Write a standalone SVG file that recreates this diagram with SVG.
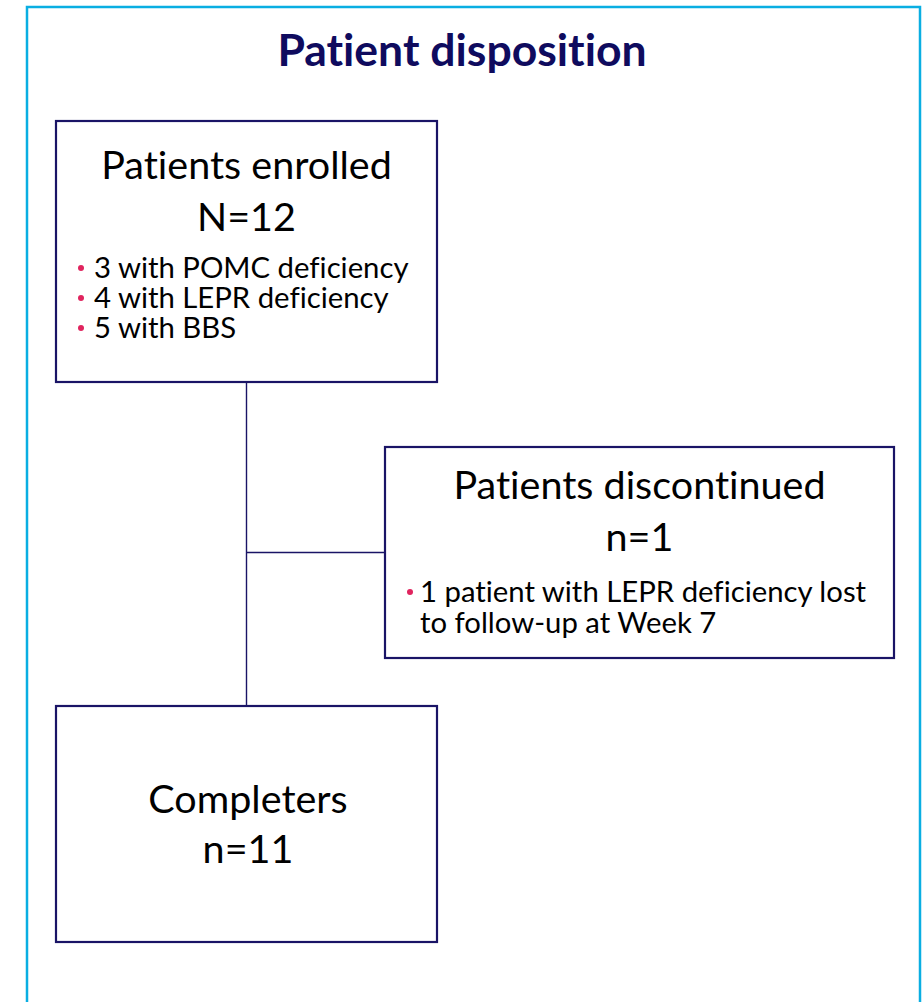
<svg xmlns="http://www.w3.org/2000/svg" width="923" height="1002" viewBox="0 0 923 1002">
<style>
.frame{fill:none;stroke:#0AAEE2;stroke-width:2.5}
.box{fill:#FFFFFF;stroke:#1A1466;stroke-width:2.2}
.conn{fill:none;stroke:#1A1466;stroke-width:1.4}
text{font-family:Lato,"Liberation Sans",sans-serif;font-variant-ligatures:none}
.title{font-weight:bold;font-size:44.5px;fill:#0F0B5E;text-anchor:middle}
.head{font-size:39.5px;fill:#000000;text-anchor:middle}
.item{font-size:29.3px;fill:#000000}
.dot{fill:#E0245E}
</style>
<rect x="0" y="0" width="923" height="1002" fill="#FFFFFF"/>
<rect class="frame" x="27" y="7" width="893" height="1010"/>
<text class="title" x="462" y="66">Patient disposition</text>
<g id="connectors">
<line class="conn" x1="246.5" y1="382" x2="246.5" y2="706"/>
<line class="conn" x1="246.5" y1="552.5" x2="385" y2="552.5"/>
</g>
<g id="enrolled">
<rect class="box" x="56" y="121" width="381" height="261"/>
<text class="head" x="246.5" y="179">Patients enrolled</text>
<text class="head" x="246.5" y="231">N=12</text>
<circle class="dot" cx="81" cy="268" r="3"/>
<text class="item" x="94" y="278">3 with POMC deficiency</text>
<circle class="dot" cx="81" cy="298" r="3"/>
<text class="item" x="94" y="308">4 with LEPR deficiency</text>
<circle class="dot" cx="81" cy="328" r="3"/>
<text class="item" x="94" y="338">5 with BBS</text>
</g>
<g id="discontinued">
<rect class="box" x="385" y="447" width="509" height="211"/>
<text class="head" x="639.5" y="499">Patients discontinued</text>
<text class="head" x="639.5" y="551">n=1</text>
<circle class="dot" cx="410" cy="592" r="3"/>
<text class="item" x="420" y="602">1 patient with LEPR deficiency lost</text>
<text class="item" x="420" y="633">to follow-up at Week 7</text>
</g>
<g id="completers">
<rect class="box" x="56" y="706" width="381" height="236"/>
<text class="head" x="248" y="813">Completers</text>
<text class="head" x="248" y="863">n=11</text>
</g>
</svg>
